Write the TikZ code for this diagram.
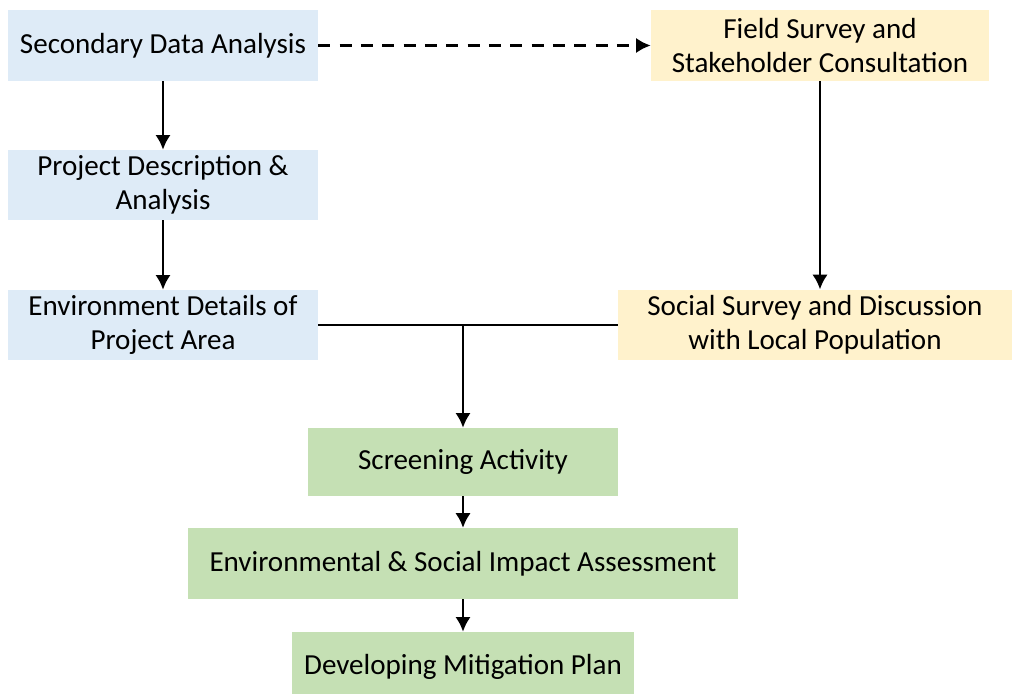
\documentclass[tikz,border=0pt]{standalone}
\usepackage{fontspec}
\setmainfont{Carlito}
\usepackage{tikz}
\usetikzlibrary{arrows, arrows.meta, calc, positioning}
\definecolor{blueBox}{HTML}{DEEBF7}
\definecolor{yellowBox}{HTML}{FFF2CC}
\definecolor{greenBox}{HTML}{C5E0B4}
\tikzset{
    stepBase/.style={rectangle, inner sep=0pt, align=center, font=\fontsize{21.8}{25.5}\selectfont},
    stepBlue/.style={stepBase, fill=blueBox, minimum width=232.5pt, minimum height=52.5pt},
    stepYellow/.style={stepBase, fill=yellowBox, minimum height=53pt},
    stepGreen/.style={stepBase, fill=greenBox, minimum height=52.5pt},
    flowEdge/.style={-{Latex[length=11pt, width=11.5pt]}, line width=2pt},
    flowDashed/.style={flowEdge, dash pattern=on 9pt off 7pt},
    flowLine/.style={line width=2pt},
}
\newcommand{\drawFlow}[3][flowEdge]{
    \draw[#1] (#2) -- (#3);
}

\begin{document}
\begin{tikzpicture}[x=0.75pt, y=-0.75pt]
    \useasboundingbox (0, 0) rectangle (1013, 693);

    % left column
    \node[stepBlue, minimum height=53pt] (sda) at (163, 45.5) {Secondary Data Analysis};
    \node[stepBlue] (pda) at (163, 185) {Project Description \&\\Analysis};
    \node[stepBlue] (edpa) at (163, 325) {Environment Details of\\Project Area};

    % right column
    \node[stepYellow, minimum width=253.5pt] (fssc) at (820, 45.5) {Field Survey and\\Stakeholder Consultation};
    \node[stepYellow, minimum width=295.5pt] (ssdlp) at (815, 325) {Social Survey and Discussion\\with Local Population};

    % bottom
    \node[stepGreen, minimum width=232.5pt, minimum height=51pt] (sa) at (463, 462) {Screening Activity};
    \node[stepGreen, minimum width=412.5pt, minimum height=53pt] (esia) at (463, 563.5) {Environmental \& Social Impact Assessment};
    \node[stepGreen, minimum width=256.5pt] (dmp) at (463, 667) {Developing Mitigation Plan};

    \coordinate (join) at (sa.north |- edpa.east);
    \coordinate (fsscEnd) at (fssc.south |- ssdlp.north);

    \drawFlow{sda}{pda}
    \drawFlow{pda}{edpa}
    \drawFlow[flowDashed]{sda.east}{fssc.west}
    \drawFlow{fssc.south}{fsscEnd}
    \drawFlow[flowLine]{edpa.east}{ssdlp.west}
    \drawFlow{join}{sa.north}
    \drawFlow{sa}{esia}
    \drawFlow{esia}{dmp}

\end{tikzpicture}
\end{document}
